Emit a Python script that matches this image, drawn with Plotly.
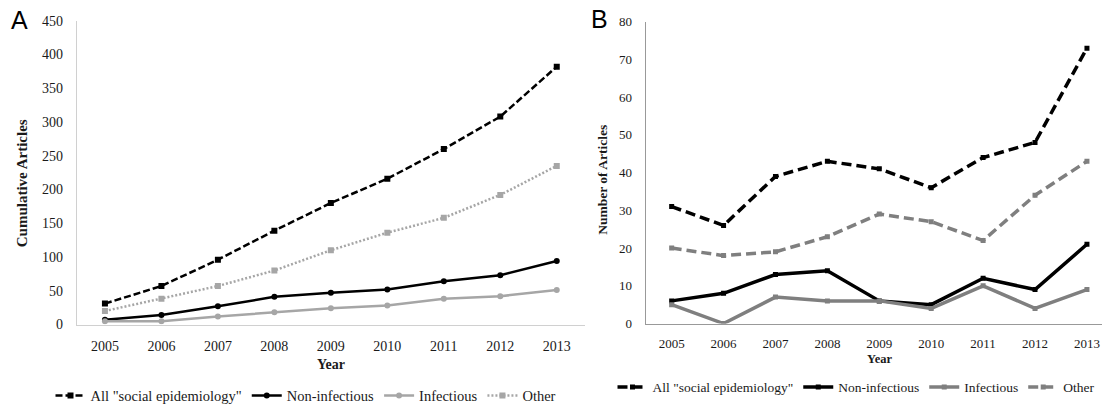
import plotly.graph_objects as go

years = [2005, 2006, 2007, 2008, 2009, 2010, 2011, 2012, 2013]
year_labels = [str(y) for y in years]

# Panel A: cumulative articles
cum_all = [31, 57, 96, 139, 180, 216, 260, 308, 382]
cum_noninf = [7, 14, 27, 41, 47, 52, 64, 73, 94]
cum_inf = [5, 5, 12, 18, 24, 28, 38, 42, 51]
cum_other = [20, 38, 57, 80, 110, 136, 158, 192, 235]

# Panel B: articles per year
n_all = [31, 26, 39, 43, 41, 36, 44, 48, 73]
n_noninf = [6, 8, 13, 14, 6, 5, 12, 9, 21]
n_inf = [5, 0, 7, 6, 6, 4, 10, 4, 9]
n_other = [20, 18, 19, 23, 29, 27, 22, 34, 43]

series_names = ['All "social epidemiology"', 'Non-infectious', 'Infectious', 'Other']

W, H = 1102, 412
SERIF = "Liberation Serif, Times New Roman, Times, serif"
SANS = "Liberation Sans, Arial, sans-serif"

def px_x(p):
    return p / W

def px_y(p):
    return (H - p) / H

fig = go.Figure()

styleA = [
    dict(color="black", dash="7px,3px", symbol="square"),
    dict(color="black", dash="solid", symbol="circle"),
    dict(color="#a6a6a6", dash="solid", symbol="circle"),
    dict(color="#a6a6a6", dash="2px,2px", symbol="square"),
]
for name, vals, st in zip(series_names, [cum_all, cum_noninf, cum_inf, cum_other], styleA):
    fig.add_trace(go.Scatter(
        x=years, y=vals, name=name, mode="lines+markers",
        line=dict(color=st["color"], width=2.5, dash=st["dash"]),
        marker=dict(color=st["color"], symbol=st["symbol"], size=6),
        xaxis="x", yaxis="y", legend="legend",
    ))

styleB = [
    dict(color="black", dash="10px,5px"),
    dict(color="black", dash="solid"),
    dict(color="#7f7f7f", dash="solid"),
    dict(color="#7f7f7f", dash="10px,5px"),
]
for name, vals, st in zip(series_names, [n_all, n_noninf, n_inf, n_other], styleB):
    fig.add_trace(go.Scatter(
        x=years, y=vals, name=name, mode="lines+markers",
        line=dict(color=st["color"], width=3.5, dash=st["dash"]),
        marker=dict(color=st["color"], symbol="square", size=5),
        xaxis="x2", yaxis="y2", legend="legend2",
    ))

axis_common = dict(showgrid=False, zeroline=False, ticks="", showline=True,
                   linewidth=1, automargin=False)

fig.update_layout(
    template="none",
    width=W, height=H,
    margin=dict(l=0, r=0, t=0, b=0, pad=0),
    paper_bgcolor="white", plot_bgcolor="white",
    font=dict(family=SERIF, color="#1a1a1a", size=14),
    showlegend=True,
    xaxis=dict(domain=[px_x(76.7), px_x(585)], range=[2004.5, 2013.5],
               tickvals=years, ticktext=year_labels, linecolor="#d0d0d0",
               tickfont=dict(size=14, family=SERIF, color="#1a1a1a"), ticklabelstandoff=9,
               anchor="y", **axis_common),
    yaxis=dict(domain=[px_y(328.5), px_y(21)], range=[0, 450], dtick=50,
               linecolor="#d0d0d0", tickfont=dict(size=14, family=SERIF, color="#1a1a1a"),
               ticklabelstandoff=10, anchor="x", **axis_common),
    xaxis2=dict(domain=[px_x(645.7), 1.0], range=[2004.5, 2013.29],
                tickvals=years, ticktext=year_labels, linecolor="#999999",
                tickfont=dict(size=13, family=SERIF, color="#1a1a1a"), ticklabelstandoff=8,
                anchor="y2", **axis_common),
    yaxis2=dict(domain=[px_y(327.5), px_y(22)], range=[0, 80], dtick=10,
                linecolor="#999999", tickfont=dict(size=13, family=SERIF, color="#1a1a1a"),
                ticklabelstandoff=10, anchor="x2", **axis_common),
    legend=dict(orientation="h", x=px_x(306), y=px_y(400.5), xanchor="center",
                yanchor="middle", font=dict(size=14.5, family=SERIF, color="#1a1a1a"),
                bgcolor="rgba(0,0,0,0)", borderwidth=0, itemwidth=30),
    legend2=dict(orientation="h", x=px_x(856), y=px_y(392), xanchor="center",
                 yanchor="middle", font=dict(size=13.5, family=SERIF, color="#1a1a1a"),
                 bgcolor="rgba(0,0,0,0)", borderwidth=0, itemwidth=30),
    annotations=[
        dict(text="A", x=px_x(19), y=px_y(20), xref="paper", yref="paper",
             xanchor="center", yanchor="middle", showarrow=False,
             font=dict(family=SANS, size=25, color="black")),
        dict(text="B", x=px_x(599.5), y=px_y(19), xref="paper", yref="paper",
             xanchor="center", yanchor="middle", showarrow=False,
             font=dict(family=SANS, size=25, color="black")),
        dict(text="<b>Cumulative Articles</b>", x=px_x(21.5), y=px_y(186), xref="paper", yref="paper",
             xanchor="center", yanchor="middle", showarrow=False, textangle=-90,
             font=dict(family=SERIF, size=15, color="#1a1a1a")),
        dict(text="<b>Number of Articles</b>", x=px_x(603), y=px_y(182), xref="paper", yref="paper",
             xanchor="center", yanchor="middle", showarrow=False, textangle=-90,
             font=dict(family=SERIF, size=13.5, color="#1a1a1a")),
        dict(text="<b>Year</b>", x=px_x(331), y=px_y(369), xref="paper", yref="paper",
             xanchor="center", yanchor="middle", showarrow=False,
             font=dict(family=SERIF, size=14, color="#1a1a1a")),
        dict(text="<b>Year</b>", x=px_x(879.5), y=px_y(363), xref="paper", yref="paper",
             xanchor="center", yanchor="middle", showarrow=False,
             font=dict(family=SERIF, size=12.5, color="#1a1a1a")),
    ],
)

fig.write_html("out.html")
